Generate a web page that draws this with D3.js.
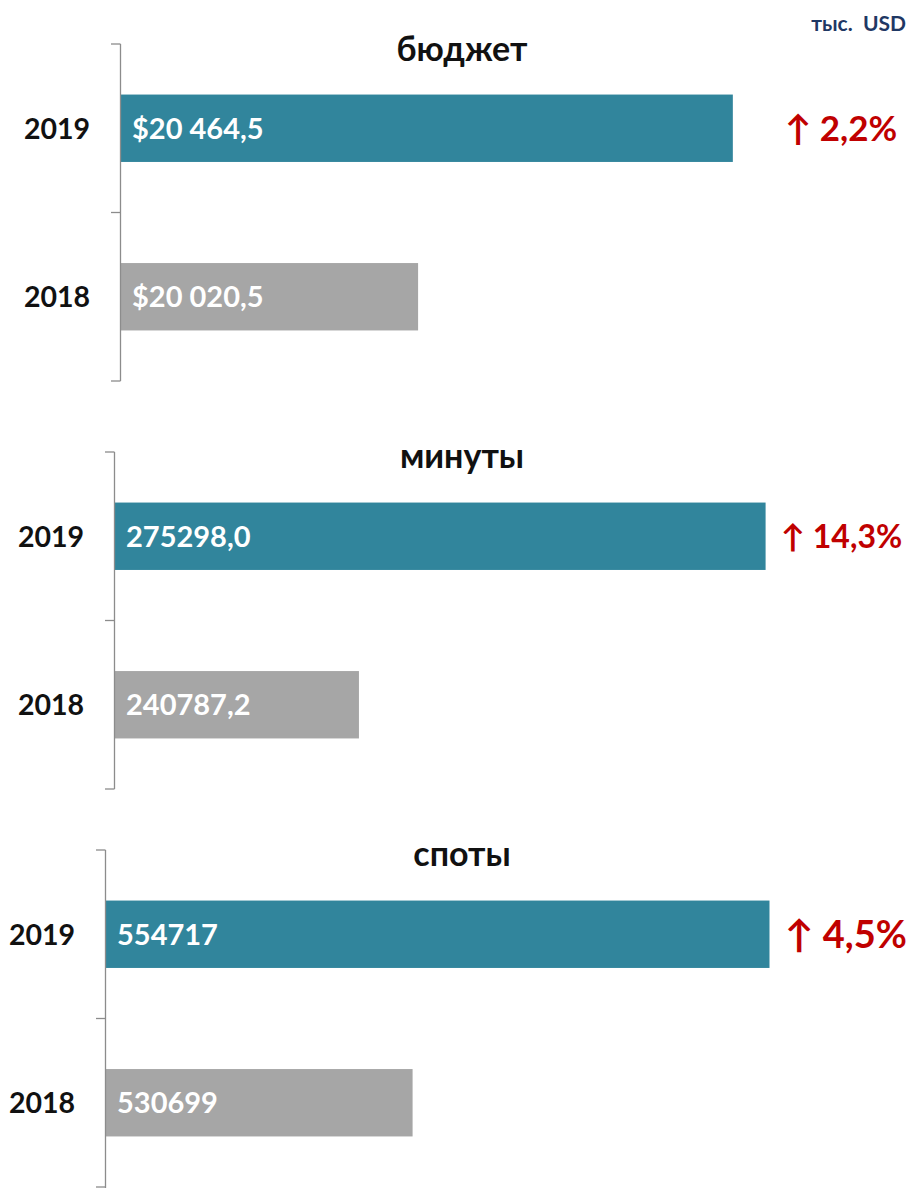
<!DOCTYPE html>
<html>
<head>
<meta charset="utf-8">
<script src="https://cdn.jsdelivr.net/npm/d3@7"></script>
<style>
  html, body { margin: 0; padding: 0; background: #fff; }
  text { font-family: Lato, "Open Sans", sans-serif; font-weight: bold; }
</style>
</head>
<body>
<svg id="chart"></svg>
<script>
// chart data
const titles = ["бюджет", "минуты", "споты"];
const years = ["2019", "2018"];
const values2019 = [20464.5, 275298.0, 554717];
const values2018 = [20020.5, 240787.2, 530699];
const labels2019 = ["$20 464,5", "275298,0", "554717"];
const labels2018 = ["$20 020,5", "240787,2", "530699"];
const changes = ["↑ 2,2%", "↑ 14,3%", "↑ 4,5%"];
const axisMin = [19600, 220000, 510000];
const axisMax = [20500, 280000, 560000];
const unitLabel = "тыс.  USD";

setupVis();

function setupVis() {
    const WIDTH = 912;
    const HEIGHT = 1188;
    const COLORS = {"2019": "#31859C", "2018": "#A6A6A6"};

    // layout of each panel (left edge of axis, top of axis, px for domain)
    const panels = [
        {x: 120, top: 44, w: 638, titleY: 61, pctX: 785, pctSize: 35},
        {x: 114, top: 452, w: 707, titleY: 468, pctX: 781, pctSize: 32},
        {x: 105, top: 850, w: 743, titleY: 866, pctX: 785, pctSize: 38}
    ];
    const PANEL_H = 337;

    let svg = d3.select("#chart")
        .attr("width", WIDTH)
        .attr("height", HEIGHT);

    svg.append("text")
        .attr("x", 906)
        .attr("y", 31)
        .attr("text-anchor", "end")
        .attr("fill", "#1F3864")
        .style("font-size", "21px")
        .style("white-space", "pre")
        .text(unitLabel);

    panels.forEach(function(p, i) {
        const data = [
            {year: years[0], value: values2019[i], label: labels2019[i]},
            {year: years[1], value: values2018[i], label: labels2018[i]}
        ];

        const x = d3.scaleLinear()
            .domain([axisMin[i], axisMax[i]])
            .range([0, p.w]);
        const y = d3.scaleBand()
            .domain(years)
            .range([0, PANEL_H])
            .paddingInner(0.6)
            .paddingOuter(0.3);

        const g = svg.append("g")
            .attr("transform", "translate(" + p.x + "," + p.top + ")");

        g.selectAll("rect")
            .data(data)
            .enter()
            .append("rect")
            .attr("x", 0)
            .attr("y", d => y(d.year))
            .attr("width", d => x(d.value))
            .attr("height", y.bandwidth())
            .attr("fill", d => COLORS[d.year]);

        // axis line + ticks on band boundaries
        const tickYs = [0, (y(years[0]) + y.bandwidth() + y(years[1])) / 2, PANEL_H];
        g.append("line")
            .attr("x1", 0.5).attr("x2", 0.5)
            .attr("y1", 0).attr("y2", i == 2 ? HEIGHT - p.top : PANEL_H)
            .attr("stroke", "#8C8C8C")
            .attr("stroke-width", 1.3);
        g.selectAll(".tick")
            .data(tickYs)
            .enter()
            .append("line")
            .attr("class", "tick")
            .attr("x1", -9).attr("x2", 0.5)
            .attr("y1", d => d).attr("y2", d => d)
            .attr("stroke", "#8C8C8C")
            .attr("stroke-width", 1.3);

        // year labels
        g.selectAll(".year")
            .data(data)
            .enter()
            .append("text")
            .attr("class", "year")
            .attr("x", -30)
            .attr("y", d => y(d.year) + y.bandwidth() / 2)
            .attr("dy", "0.36em")
            .attr("text-anchor", "end")
            .attr("fill", "#111")
            .style("font-size", "28.5px")
            .text(d => d.year);

        // values inside bars
        g.selectAll(".val")
            .data(data)
            .enter()
            .append("text")
            .attr("class", "val")
            .attr("x", 12)
            .attr("y", d => y(d.year) + y.bandwidth() / 2)
            .attr("dy", "0.36em")
            .attr("fill", "#fff")
            .style("font-size", "29px")
            .text(d => d.label);

        // panel title
        svg.append("text")
            .attr("x", 462)
            .attr("y", p.titleY)
            .attr("text-anchor", "middle")
            .attr("fill", "#111")
            .style("font-size", "34px")
            .text(titles[i]);

        // change label
        svg.append("text")
            .attr("x", p.pctX)
            .attr("y", p.top + y(years[0]) + y.bandwidth() / 2)
            .attr("dy", "0.36em")
            .attr("fill", "#C00000")
            .style("font-size", p.pctSize + "px")
            .text(changes[i]);
    });
}
</script>
</body>
</html>
